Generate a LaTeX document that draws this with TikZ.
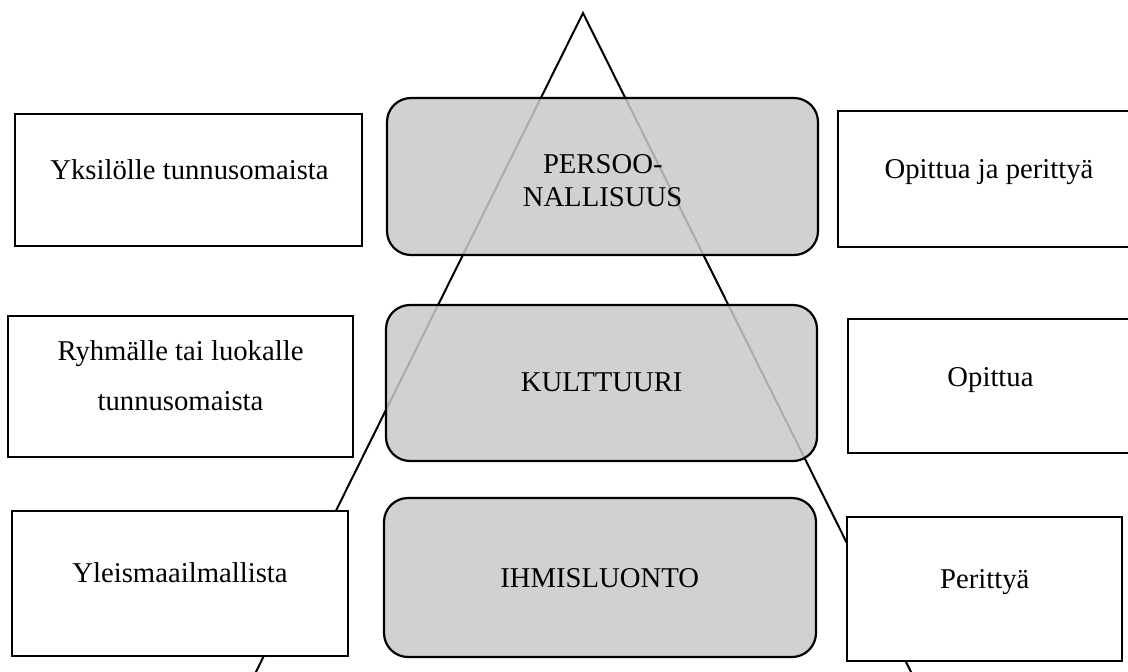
\documentclass[tikz,border=0pt]{standalone}
\usepackage{fontspec}
\setmainfont{Liberation Serif}
\begin{document}
\begin{tikzpicture}[x=1pt,y=-1pt,
  lbl/.style={anchor=base,inner sep=0pt,font=\fontsize{28.7}{34}\selectfont},
  plainbox/.style={draw=black,line width=2.2pt,fill=white,inner sep=0pt,outer sep=0pt},
  levelbox/.style={draw=black,line width=2.2pt,fill={rgb,255:red,201;green,201;blue,201},
    fill opacity=0.85,draw opacity=1,text opacity=1,rounded corners=24pt,
    inner sep=0pt,outer sep=0pt},
  side/.style={line width=2pt,line cap=round,line join=miter}]
\useasboundingbox (0,0) rectangle (1128,672);

% pyramid behind the boxes
\coordinate (apex) at (583,13);
\coordinate (baseL) at (242,700);
\coordinate (baseR) at (925,700);
\draw[side] (baseL) -- (apex) -- (baseR);

% descriptions on the left
\node[plainbox,minimum width=347pt,minimum height=132pt] (yks) at (188.5,180) {};
\node[plainbox,minimum width=345pt,minimum height=141pt] (ryh) at (180.5,386.5) {};
\node[plainbox,minimum width=336pt,minimum height=145pt] (yle) at (180,583.5) {};

% descriptions on the right
\node[plainbox,minimum width=297pt,minimum height=136pt] (opp) at (986.5,179) {};
\node[plainbox,minimum width=287pt,minimum height=134pt] (opi) at (991.5,386) {};
\node[plainbox,minimum width=275pt,minimum height=144pt] (per) at (984.5,589) {};

% levels in the middle
\node[levelbox,minimum width=431pt,minimum height=157pt] (pers) at (602.5,176.5) {};
\node[levelbox,minimum width=431pt,minimum height=156pt] (kult) at (601.5,383) {};
\node[levelbox,minimum width=432pt,minimum height=159pt] (ihm) at (600,577.5) {};

% texts
\node[lbl] (tyks) at (189.5,179) {Yksilölle tunnusomaista};
\node[lbl] (tryh1) at (180.5,360.7) {Ryhmälle tai luokalle};
\node[lbl] (tryh2) at (180.5,410) {tunnusomaista};
\node[lbl] (tyle) at (180,582.7) {Yleismaailmallista};

\node[lbl] (tpers1) at (602.8,173) {PERSOO-};
\node[lbl] (tpers2) at (602.5,206.7) {NALLISUUS};
\node[lbl] (tkult) at (601.7,391.7) {KULTTUURI};
\node[lbl] (tihm) at (599.7,587) {IHMISLUONTO};

\node[lbl] (topp) at (989,178) {Opittua ja perittyä};
\node[lbl] (topi) at (990.5,386) {Opittua};
\node[lbl] (tper) at (984.7,588) {Perittyä};
\end{tikzpicture}
\end{document}
